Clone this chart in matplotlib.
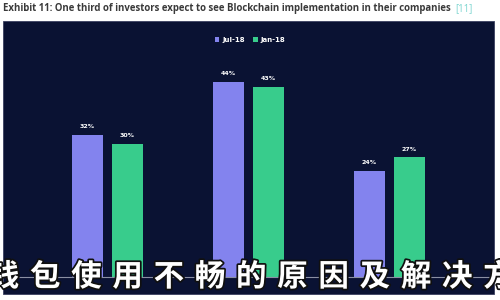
import matplotlib
matplotlib.use("Agg")
import matplotlib.pyplot as plt
import matplotlib.patheffects as pe
from matplotlib.patches import Rectangle
import numpy as np

# values
series_names = ["Jul-18", "Jan-18"]
jul18 = [32, 44, 24]
jan18 = [30, 43, 27]
title_main = "Exhibit 11: One third of investors expect to see Blockchain implementation in their companies"
title_ref = "[11]"
overlay = "钱包使用不畅的原因及解决方"

NAVY = "#0a1233"
PURPLE = "#8383ee"
GREEN = "#38cc8c"
AXIS = "#8a8fa3"
W, H = 500, 300

fig = plt.figure(figsize=(W / 100, H / 100), dpi=100)
fig.patch.set_facecolor("white")

# dark panel behind the chart
fig.patches.append(Rectangle((3 / W, (H - 294) / H), 491 / W, 273 / H,
                             transform=fig.transFigure, facecolor=NAVY,
                             edgecolor="#3a4060", lw=0.6, zorder=-1))

# title line
t = fig.text(3 / W, 1 - 9 / H, title_main, fontsize=6.9, fontweight="bold",
             color="#3a3a3a", va="center", ha="left", family="Open Sans")
fig.canvas.draw()
bb = t.get_window_extent()
fig.text(bb.x1 / W + 4 / W, 1 - 9 / H, title_ref, fontsize=6.9,
         color="#7fd6d0", va="center", ha="left", family="Open Sans")

# axes: baseline at y=277 px, 0-50 % spans 221.5 px
base = (H - 277) / H
ax = fig.add_axes([5 / W, base, 485 / W, 221.5 / H])
ax.set_zorder(1)
ax.patch.set_alpha(0)
x = np.arange(len(jul18))
pitch = 140.75
ax.set_xlim(-(107.5 - 5) / pitch, 2 + (490 - 389) / pitch)
ax.set_ylim(0, 50)
bw = 31 / pitch
off = 20 / pitch
b1 = ax.bar(x - off, jul18, bw, color=PURPLE, label=series_names[0])
b2 = ax.bar(x + off, jan18, bw, color=GREEN, label=series_names[1])
for bars, vals in ((b1, jul18), (b2, jan18)):
    for r, v in zip(bars, vals):
        ax.text(r.get_x() + r.get_width() / 2, v + 1.3, f"{v}%",
                ha="center", va="bottom", fontsize=4.5, color="white",
                fontweight="bold")
for side in ("top", "right", "left"):
    ax.spines[side].set_visible(False)
ax.spines["bottom"].set_color(AXIS)
ax.spines["bottom"].set_linewidth(0.8)
ax.set_xticks([])
ax.set_yticks([])

leg = fig.legend(handles=[b1, b2], loc="center", bbox_to_anchor=(250 / W, 1 - 40 / H),
                 ncol=2, frameon=False, fontsize=5, handlelength=0.7,
                 handleheight=0.7, handletextpad=0.4, columnspacing=1.2)
leg.set_zorder(2)
for txt in leg.get_texts():
    txt.set_color("white")
    txt.set_fontweight("bold")

# large overlaid caption
for i, ch in enumerate(overlay):
    fig.text((4 + 41.2 * i) / W, 1 - 277 / H, ch, fontsize=22, fontweight="bold",
             color="white", ha="center", va="center", zorder=5,
             family=["Noto Sans CJK SC", "DejaVu Sans"],
             path_effects=[pe.withStroke(linewidth=2.5, foreground="#101010")])

fig.savefig("out.png", dpi=100)
